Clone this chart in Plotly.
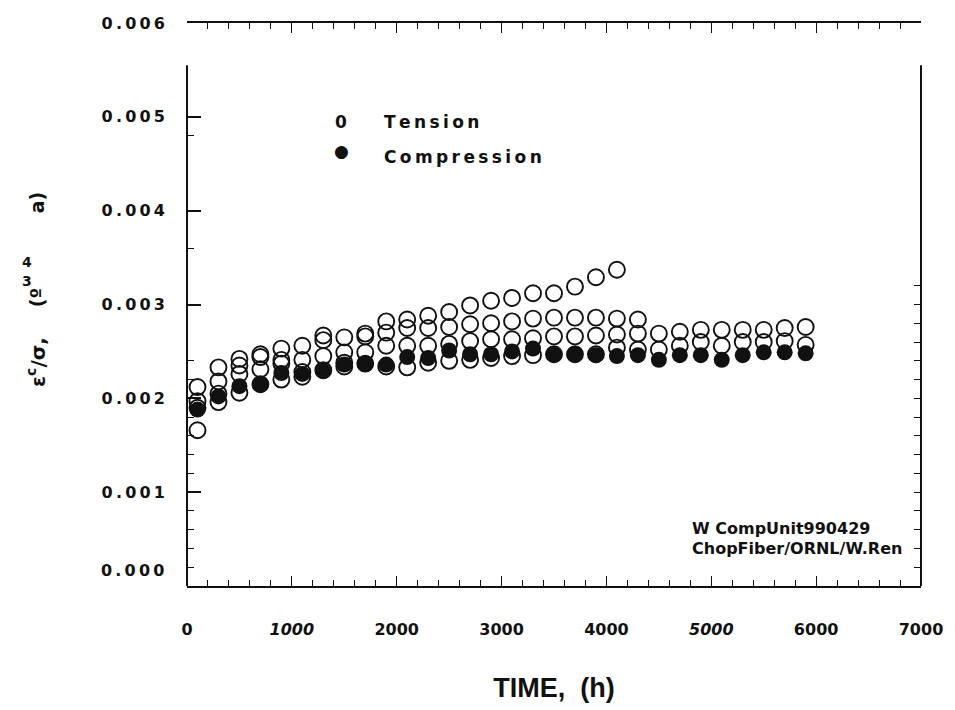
import plotly.graph_objects as go

# Creep compliance, chopped-fiber composite, tension vs compression
time_h = [100, 300, 500, 700, 900, 1100, 1300, 1500, 1700, 1900,
          2100, 2300, 2500, 2700, 2900, 3100, 3300, 3500, 3700, 3900,
          4100, 4300, 4500, 4700, 4900, 5100, 5300, 5500, 5700, 5900]

tension_a = [0.00212, 0.00233, 0.00242, 0.00247, 0.00253, 0.00256, 0.00267, 0.00265, 0.00269, 0.00282,
             0.00284, 0.00288, 0.00292, 0.00299, 0.00304, 0.00307, 0.00312, 0.00312, 0.00319, 0.00329,
             0.00337, None, None, None, None, None, None, None, None, None]
tension_b = [0.00197, 0.00218, 0.00235, 0.00244, 0.00241, 0.00241, 0.00262, 0.00249, 0.00266, 0.00270,
             0.00275, 0.00275, 0.00276, 0.00279, 0.00280, 0.00282, 0.00285, 0.00286, 0.00286, 0.00286,
             0.00285, 0.00284, None, None, None, None, None, None, None, None]
tension_c = [0.00190, 0.00205, 0.00226, 0.00231, 0.00237, 0.00228, 0.00245, 0.00238, 0.00249, 0.00256,
             0.00256, 0.00256, 0.00258, 0.00261, 0.00263, 0.00263, 0.00264, 0.00266, 0.00266, 0.00267,
             0.00268, 0.00269, 0.00269, 0.00271, 0.00273, 0.00273, 0.00273, 0.00273, 0.00275, 0.00276]
tension_d = [0.00166, 0.00196, 0.00206, 0.00215, 0.00220, 0.00223, 0.00230, 0.00234, 0.00237, 0.00234,
             0.00233, 0.00238, 0.00240, 0.00241, 0.00243, 0.00245, 0.00246, 0.00247, 0.00247, 0.00247,
             0.00254, 0.00252, 0.00252, 0.00256, 0.00260, 0.00256, 0.00260, 0.00260, 0.00261, 0.00257]
compression = [0.00188, 0.00202, 0.00213, 0.00215, 0.00227, 0.00226, 0.00229, 0.00236, 0.00237, 0.00236,
               0.00244, 0.00243, 0.00251, 0.00247, 0.00247, 0.00250, 0.00253, 0.00247, 0.00247, 0.00246,
               0.00245, 0.00246, 0.00241, 0.00246, 0.00246, 0.00241, 0.00246, 0.00249, 0.00249, 0.00248]

y_major = [0.001, 0.002, 0.003, 0.004, 0.005, 0.006]
y_labels = ["0.001", "0.002", "0.003", "0.004", "0.005", "0.006"]
y_zero_label = "0.000"
x_major = [0, 1000, 2000, 3000, 4000, 5000, 6000, 7000]
x_labels = ["0", "<i>1000</i>", "2000", "3000", "4000", "<i>5000</i>", "6000", "7000"]

INK = "#111111"
WIDE = "DejaVu Sans, Verdana, sans-serif"
NARROW = "Liberation Sans Narrow, Liberation Sans, Arial, sans-serif"
TS = "\u2009"  # thin space used to open up letter spacing


def spaced(s):
    return TS.join(s)


fig = go.Figure()

for series in (tension_a, tension_b, tension_c, tension_d):
    fig.add_trace(go.Scatter(
        x=time_h, y=series, mode="markers", showlegend=False,
        marker=dict(symbol="circle-open", size=16, color=INK, line=dict(width=1.9, color=INK)),
    ))

fig.add_trace(go.Scatter(
    x=time_h, y=compression, mode="markers", showlegend=False,
    marker=dict(symbol="circle", size=16, color=INK, line=dict(width=0)),
))

# right-hand tick strip (only the lower part carries ticks)
right_ticks = [i * 0.0002 for i in range(0, 17)]
fig.add_trace(go.Scatter(x=[None], y=[None], yaxis="y2", showlegend=False))

fig.update_layout(
    width=955, height=710,
    margin=dict(l=187, r=26, t=23, b=123),
    paper_bgcolor="white", plot_bgcolor="white",
    showlegend=False,
    xaxis=dict(
        range=[0, 7000], showgrid=False, zeroline=False,
        showline=True, linecolor=INK, linewidth=1.5, mirror="ticks",
        ticks="inside", ticklen=10, tickwidth=1.3, tickcolor=INK,
        tickmode="array", tickvals=x_major, ticktext=x_labels,
        minor=dict(dtick=200, tick0=0, ticks="inside", ticklen=6, tickwidth=1, tickcolor=INK),
        ticklabelstandoff=28,
        tickfont=dict(family=WIDE, size=16, color=INK, weight="bold"),
        title=dict(text="<b>TIME,  (h)</b>", font=dict(family=NARROW, size=27, color=INK),
                   standoff=40),
    ),
    yaxis=dict(
        range=[0, 0.006], showgrid=False, zeroline=False, showline=False,
        ticks="inside", ticklen=14, tickwidth=2, tickcolor=INK,
        tickmode="array", tickvals=y_major, ticktext=[spaced(t) for t in y_labels],
        minor=dict(tickvals=[0.0002, 0.0004, 0.0006, 0.0008, 0.0012, 0.0014, 0.0016, 0.0018,
                             0.0022, 0.0024, 0.0036, 0.0048],
                   ticks="inside", ticklen=7, tickwidth=1, tickcolor=INK),
        ticklabelstandoff=21,
        tickfont=dict(family=WIDE, size=16, color=INK, weight="bold"),
    ),
    yaxis2=dict(
        range=[0, 0.006], overlaying="y", side="right", showgrid=False, zeroline=False,
        showline=False, ticks="inside", ticklen=7, tickwidth=1.2, tickcolor=INK,
        tickmode="array", tickvals=right_ticks, showticklabels=False,
    ),
)

# left and right frame lines stop short of the top border
for xp in (0, 1):
    fig.add_shape(type="line", xref="paper", yref="y", x0=xp, x1=xp, y0=0, y1=0.00555,
                  line=dict(color=INK, width=2))


def px_x(px):
    return (px - 187) / 742


def px_y(py):
    return (587 - py) / 564


def note(text, x, y, size=17, angle=0, family=WIDE, xanchor="center"):
    fig.add_annotation(text=text, xref="paper", yref="paper", x=px_x(x), y=px_y(y), showarrow=False,
                       textangle=angle, xanchor=xanchor, yanchor="middle",
                       font=dict(family=family, size=size, color=INK))


# zero label sits a little above its tick
note("<b>" + spaced(y_zero_label) + "</b>", 166, 571, size=16, xanchor="right")

# key
note("<b>0</b>", 343, 122, size=17)
note("<b>" + spaced("Tension") + "</b>", 384, 122, size=17, xanchor="left")
note("\u25cf", 343, 151, size=17)
note("<b>" + spaced("Compression") + "</b>", 384, 157, size=17, xanchor="left")

# specimen tag
note("<b>W CompUnit990429</b>", 695, 529, size=16, xanchor="left")
note("<b>ChopFiber/ORNL/W.Ren</b>", 695, 549, size=16, xanchor="left")

# y axis title pieces
note("<b>ε<sup>c</sup>/σ,</b>", 35, 363, size=20, angle=-90)
note("<b>(º</b>", 35, 298, size=19, angle=-90)
note("<b>4</b>", 25, 262, size=14)
note("<b>3</b>", 25, 281, size=14)
note("<b>a)</b>", 35, 203, size=19, angle=-90)

fig.write_html("out.html")
